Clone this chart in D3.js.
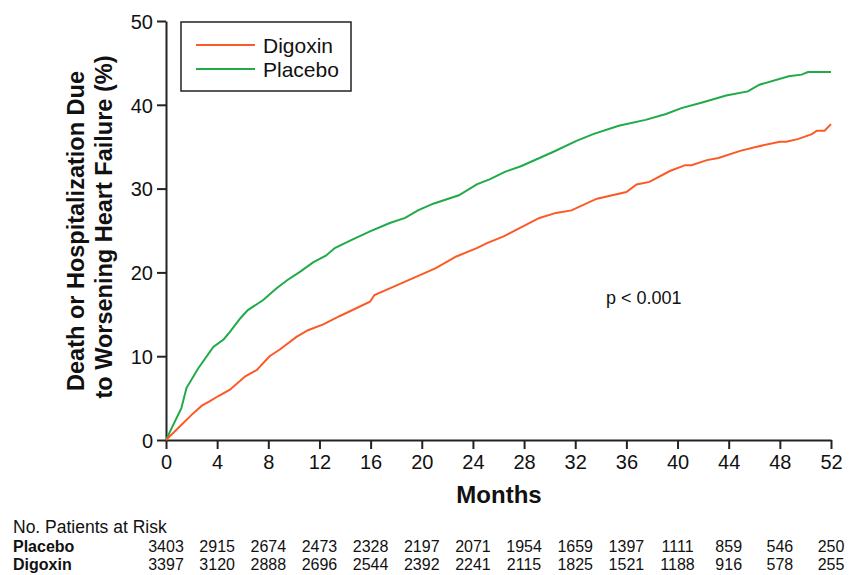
<!DOCTYPE html>
<html>
  <head>
    <meta charset="UTF-8">
    <script src="https://cdn.jsdelivr.net/npm/d3@7"></script>
    <style>
      body { margin: 0; background: #fff; }
      text { font-family: "Liberation Sans", Arial, sans-serif; fill: #111; }
    </style>
  </head>
  <body>
    <svg id="chart" width="861" height="575"></svg>
    <script type="text/javascript">
      // [month, cumulative %]
      var placebo = [[0,0],[0.5,1.6],[1.2,3.8],[1.6,6.2],[2.5,8.5],[3.7,11.1],[4.5,12.0],[5.0,12.9],[5.8,14.5],[6.4,15.5],
        [7.6,16.7],[8.65,18.1],[9.5,19.1],[10.5,20.1],[11.5,21.2],[12.5,22.0],[13.2,22.9],[14.4,23.8],[15.95,24.9],
        [17.5,25.9],[18.7,26.5],[19.7,27.4],[20.9,28.2],[22.9,29.2],[24.3,30.5],[25.3,31.1],[26.5,32.0],[27.8,32.7],
        [30.3,34.4],[32.1,35.7],[33.4,36.5],[35.4,37.5],[37.5,38.2],[39.1,38.9],[40.3,39.6],[42.0,40.3],[43.8,41.1],
        [45.5,41.6],[46.4,42.4],[48.7,43.4],[49.7,43.6],[50.2,43.9],[52,43.9]];
      var digoxin = [[0,0],[1,1.5],[2,3.0],[2.8,4.1],[3.4,4.6],[4.1,5.25],[5.0,6.0],[6.2,7.6],[7.1,8.35],[8.1,10.0],
        [8.9,10.8],[10.2,12.3],[11.1,13.1],[12.3,13.8],[13.6,14.8],[15.95,16.5],[16.3,17.3],[17.5,18.1],[18.7,18.9],
        [21.1,20.5],[22.7,21.9],[24.3,22.9],[25.1,23.5],[26.4,24.3],[29.2,26.5],[30.5,27.1],[31.7,27.4],[33.7,28.8],
        [36.0,29.6],[36.8,30.5],[37.8,30.8],[39.4,32.1],[40.6,32.8],[41.1,32.8],[42.3,33.4],[43.2,33.65],[44.9,34.5],
        [46.2,35.0],[48.0,35.6],[48.5,35.6],[49.4,35.9],[50.5,36.5],[50.9,36.9],[51.5,36.9],[52,37.7]];

      var monthTicks = [0,4,8,12,16,20,24,28,32,36,40,44,48,52];
      var pctTicks = [0,10,20,30,40,50];
      var riskPlacebo = [3403,2915,2674,2473,2328,2197,2071,1954,1659,1397,1111,859,546,250];
      var riskDigoxin = [3397,3120,2888,2696,2544,2392,2241,2115,1825,1521,1188,916,578,255];

      var orange = '#fb5a26', green = '#20aa48';

      var svg = d3.select('#chart');
      var x = d3.scaleLinear().domain([0, 52]).range([166, 831]);
      var y = d3.scaleLinear().domain([0, 50]).range([440, 21]);

      // axes
      var xAxis = svg.append('g').attr('transform', 'translate(0,440)')
        .call(d3.axisBottom(x).tickValues(monthTicks).tickSize(9).tickSizeOuter(0).tickPadding(6));
      var yAxis = svg.append('g').attr('transform', 'translate(166,0)')
        .call(d3.axisLeft(y).tickValues(pctTicks).tickSize(9).tickSizeOuter(0).tickPadding(4));
      [xAxis, yAxis].forEach(function(g) {
        g.selectAll('path, line').attr('stroke', '#222').attr('stroke-width', 2);
        g.selectAll('text').style('font-size', '20px').attr('fill', '#111');
      });
      yAxis.selectAll('.tick text').attr('dy', '0.36em');

      // curves
      var line = d3.line()
        .x(function(d) { return x(d[0]); })
        .y(function(d) { return y(d[1]); });

      svg.append('path').datum(placebo)
        .attr('d', line).attr('fill', 'none').attr('stroke', green).attr('stroke-width', 2);
      svg.append('path').datum(digoxin)
        .attr('d', line).attr('fill', 'none').attr('stroke', orange).attr('stroke-width', 2);

      // legend
      svg.append('rect').attr('x', 181).attr('y', 22).attr('width', 170).attr('height', 69)
        .attr('fill', 'none').attr('stroke', '#222').attr('stroke-width', 1.5);
      var legend = [['Digoxin', orange, 45], ['Placebo', green, 69]];
      legend.forEach(function(l) {
        svg.append('line').attr('x1', 196).attr('x2', 255).attr('y1', l[2]).attr('y2', l[2])
          .attr('stroke', l[1]).attr('stroke-width', 2);
        svg.append('text').attr('x', 263).attr('y', l[2] + 7.5)
          .style('font-size', '21px').text(l[0]);
      });

      svg.append('text').attr('x', 606).attr('y', 304).style('font-size', '18px').text('p < 0.001');

      // axis titles
      svg.append('text').attr('x', 499).attr('y', 503).attr('text-anchor', 'middle')
        .style('font-size', '24px').style('font-weight', 'bold').text('Months');
      var yt = svg.append('text').attr('transform', 'translate(0,231) rotate(-90)')
        .attr('text-anchor', 'middle').style('font-size', '23.5px').style('font-weight', 'bold');
      yt.append('tspan').attr('x', 0).attr('y', 84).text('Death or Hospitalization Due');
      yt.append('tspan').attr('x', 4).attr('y', 112).text('to Worsening Heart Failure (%)');

      // patients at risk
      svg.append('text').attr('x', 13).attr('y', 533).style('font-size', '17.5px').text('No. Patients at Risk');
      var rows = [['Placebo', riskPlacebo, 552], ['Digoxin', riskDigoxin, 570]];
      rows.forEach(function(r) {
        svg.append('text').attr('x', 13).attr('y', r[2])
          .style('font-size', '16px').style('font-weight', 'bold').text(r[0]);
        svg.append('g').selectAll('text').data(r[1]).enter().append('text')
          .attr('x', function(d, i) { return x(monthTicks[i]); })
          .attr('y', r[2])
          .attr('text-anchor', 'middle')
          .style('font-size', '16px')
          .text(function(d) { return d; });
      });
    </script>
  </body>
</html>
